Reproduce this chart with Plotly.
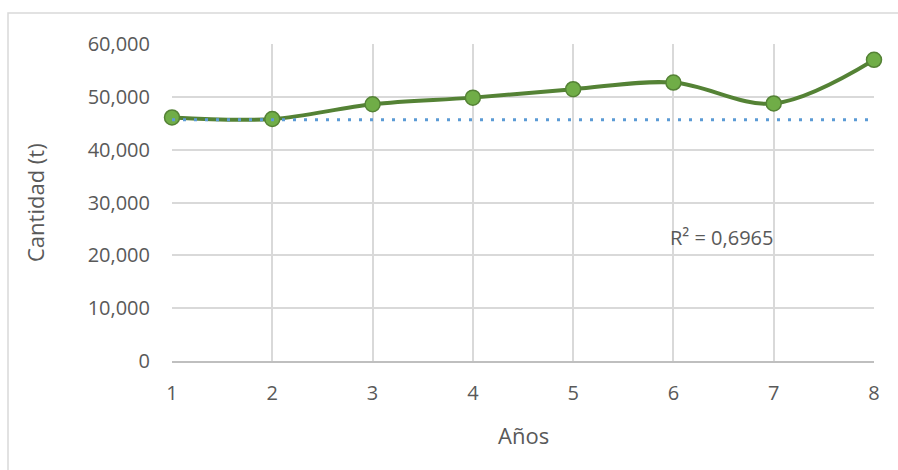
import plotly.graph_objects as go

# Annual quantities (tonnes)
anios = [1, 2, 3, 4, 5, 6, 7, 8]
cantidad = [46100, 45800, 48600, 49850, 51450, 52700, 48750, 57000]

# Trend line endpoints and its fit statistic
tendencia_x = [1, 8]
tendencia_y = [45650, 45650]
r2_texto = "R² = 0,6965"

y_ticks = [0, 10000, 20000, 30000, 40000, 50000, 60000]

FONT = "Open Sans"
GRIS = "#595959"
REJILLA = "#D9D9D9"

W, H = 898, 470
L, R, T, B = 172, 24, 44, 109
PW, PH = W - L - R, H - T - B

fig = go.Figure()

fig.add_trace(go.Scatter(
    x=anios, y=cantidad,
    mode="lines+markers",
    line=dict(color="#548235", width=4, shape="spline", smoothing=1.0),
    marker=dict(size=15, color="#70AD47", line=dict(color="#548235", width=1.5)),
    cliponaxis=False,
    showlegend=False,
))

fig.add_trace(go.Scatter(
    x=tendencia_x, y=tendencia_y,
    mode="lines",
    line=dict(color="#5B9BD5", width=3, dash="3px,8px"),
    cliponaxis=False,
    showlegend=False,
))

fig.add_annotation(
    x=6.48, y=23300, xref="x", yref="y",
    xanchor="center", yanchor="middle",
    text=r2_texto, showarrow=False,
    font=dict(family=FONT, size=20, color=GRIS),
)

# Axis titles
fig.add_annotation(
    x=(35 - L) / PW, y=(H - B - 203) / PH, xref="paper", yref="paper",
    xanchor="center", yanchor="middle",
    text="Cantidad (t)", textangle=-90, showarrow=False,
    font=dict(family=FONT, size=22, color=GRIS),
)
fig.add_annotation(
    x=(523 - L) / PW, y=-(435 - (H - B)) / PH, xref="paper", yref="paper",
    xanchor="center", yanchor="middle",
    text="Años", showarrow=False,
    font=dict(family=FONT, size=22, color=GRIS),
)

# Chart frame
fig.add_shape(
    type="rect", xref="paper", yref="paper",
    x0=(8 - L) / PW, x1=(910 - L) / PW,
    y0=-(480 - (H - B)) / PH, y1=1 + (T - 13) / PH,
    line=dict(color=REJILLA, width=1.5), layer="below",
)

fig.update_layout(
    width=W, height=H,
    margin=dict(l=L, r=R, t=T, b=B),
    paper_bgcolor="white", plot_bgcolor="white",
    font=dict(family=FONT, size=20, color=GRIS),
)

fig.update_xaxes(
    range=[1, 8], tickvals=anios, ticktext=[str(a) for a in anios],
    showgrid=True, gridcolor=REJILLA, gridwidth=1.5,
    showline=True, linecolor="#BFBFBF", linewidth=1.5,
    zeroline=False, ticks="", ticklabelstandoff=13,
    tickfont=dict(family=FONT, size=20, color=GRIS),
)
fig.update_yaxes(
    range=[0, 60000], tickvals=y_ticks, tickformat=",",
    showgrid=True, gridcolor=REJILLA, gridwidth=1.5,
    zeroline=False, showline=False, ticks="", ticklabelstandoff=21,
    tickfont=dict(family=FONT, size=20, color=GRIS),
)

fig.write_html("out.html")
